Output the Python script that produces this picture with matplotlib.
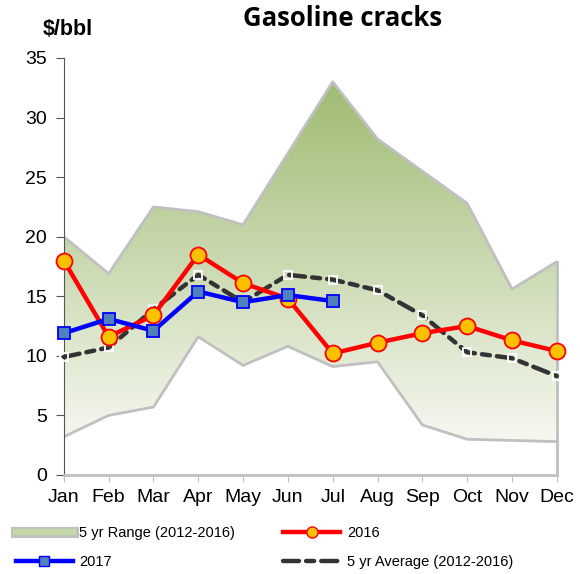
import numpy as np
import matplotlib
matplotlib.use("Agg")
import matplotlib.pyplot as plt
from matplotlib.lines import Line2D
from matplotlib.patches import Polygon
from matplotlib.legend_handler import HandlerTuple
from matplotlib.colors import LinearSegmentedColormap

months = ["Jan", "Feb", "Mar", "Apr", "May", "Jun", "Jul", "Aug", "Sep", "Oct", "Nov", "Dec"]
range_low = [3.2, 5.0, 5.7, 11.6, 9.2, 10.8, 9.1, 9.5, 4.2, 3.0, 2.9, 2.8]
range_high = [20.0, 16.9, 22.5, 22.1, 21.0, 27.0, 33.0, 28.2, 25.5, 22.8, 15.6, 17.9]
y2016 = [18.0, 11.6, 13.4, 18.5, 16.1, 14.8, 10.2, 11.1, 11.9, 12.5, 11.3, 10.4]
y2017 = [11.9, 13.1, 12.1, 15.4, 14.5, 15.1, 14.6]
avg5 = [9.9, 10.7, 13.9, 16.8, 14.5, 16.8, 16.4, 15.5, 13.4, 10.3, 9.8, 8.3]

plt.rcParams['font.family'] = ['Liberation Sans', 'DejaVu Sans']

fig = plt.figure(figsize=(5.8, 5.74), dpi=100)
ax = fig.add_axes([0.110, 0.1725, 0.850, 0.7265])

x = np.arange(len(months))
gray = "#c0c0c0"

# gradient band between low and high
verts = list(zip(x, range_high)) + list(zip(x[::-1], range_low[::-1]))
poly = Polygon(verts, closed=True, facecolor="none", edgecolor="none")
ax.add_patch(poly)
cmap = LinearSegmentedColormap.from_list("g", ["#f6f8f1", "#9fbb72"])
grad = np.linspace(0, 1, 256).reshape(-1, 1)
ymin, ymax = min(range_low), max(range_high)
im = ax.imshow(grad, cmap=cmap, aspect="auto", origin="lower",
               extent=[x[0], x[-1], ymin, ymax], zorder=1)
im.set_clip_path(poly)
ax.plot(x, range_high, color=gray, lw=2, zorder=2)
ax.plot(x, range_low, color=gray, lw=2, zorder=2)
ax.plot([x[-1], x[-1]], [0, range_high[-1]], color=gray, lw=2, zorder=2, clip_on=False)

avg_dash = (3.6, 1.6, 1.8, 1.6)
ax.plot(x, avg5, color="#333333", lw=3.2, dashes=avg_dash,
        dash_capstyle="round", marker="s", ms=6, mfc="none", mec="white",
        mew=1.3, zorder=3, clip_on=False)
ax.plot(x, y2016, color="#ff0000", lw=3.2, marker="o", ms=11.5, mfc="#ffc000",
        mec="#ff0000", mew=1.3, zorder=4, clip_on=False)
ax.plot(x[:len(y2017)], y2017, color="#0000ff", lw=3.2, marker="s", ms=9,
        mfc="#4f81bd", mec="#0000ff", mew=1.3, zorder=5, clip_on=False)

ax.set_xlim(x[0], x[-1])
ax.set_ylim(0, 35)
ax.set_yticks(range(0, 36, 5))
ax.set_xticks(x)
ax.set_xticklabels(months)
ax.tick_params(axis="both", labelsize=14, colors="black")
ax.tick_params(axis="y", length=6, color="#555555", pad=6)
ax.tick_params(axis="x", length=5, color=gray, pad=5, direction="out")
for s in ["top", "right"]:
    ax.spines[s].set_visible(False)
ax.spines["left"].set_color("#555555")
ax.spines["bottom"].set_color(gray)
ax.spines["bottom"].set_linewidth(2)

fig.text(0.590, 0.968, "Gasoline cracks", ha="center", va="center",
         fontsize=18.5, fontweight="bold", family="Open Sans")
fig.text(0.074, 0.948, "$/bbl", ha="left", va="center", fontsize=15.5,
         fontweight="bold")

h_range = (Line2D([], [], color=gray, lw=8), Line2D([], [], color="#c5d9a8", lw=4.5))
h16 = Line2D([], [], color="#ff0000", lw=3.2, marker="o", ms=8, mfc="#ffc000", mec="#ff0000")
h17 = Line2D([], [], color="#0000ff", lw=3.2, marker="s", ms=7, mfc="#4f81bd", mec="#0000ff")
havg = Line2D([], [], color="#333333", lw=3.2, dashes=avg_dash, dash_capstyle="round")
fig.legend([h_range, h17, h16, havg],
           ["5 yr Range (2012-2016)", "2017", "2016", "5 yr Average (2012-2016)"],
           handler_map={tuple: HandlerTuple(ndivide=1, pad=0)},
           loc="lower left", bbox_to_anchor=(0.005, -0.014), ncol=2, frameon=False,
           fontsize=10.5, handlelength=3.9, columnspacing=3.3, labelspacing=1.0,
           handletextpad=0.45)

fig.savefig("out.png", dpi=100)
